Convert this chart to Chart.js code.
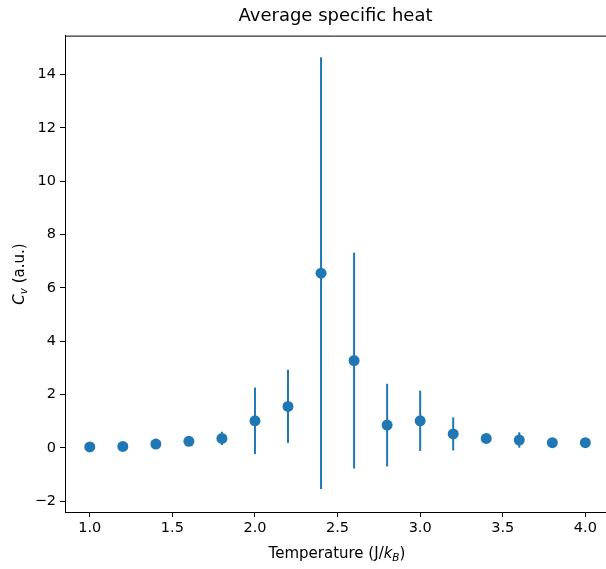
<!DOCTYPE html>
<html lang="en">
<head>
    <meta charset="UTF-8">
    <title>Average specific heat</title>
    <script src="https://cdn.jsdelivr.net/npm/chart.js"></script>
    <style>
        html, body {
            margin: 0;
            padding: 0;
            background: #fff;
        }
        #wrap {
            width: 606px;
            height: 569px;
        }
    </style>
</head>
<body>
    <div id="wrap">
        <canvas id="heatChart" width="606" height="569"></canvas>
    </div>

    <script>
        // data
        const temps = [1.0, 1.2, 1.4, 1.6, 1.8, 2.0, 2.2, 2.4, 2.6, 2.8, 3.0, 3.2, 3.4, 3.6, 3.8, 4.0];
        const cvMean = [0.03, 0.05, 0.14, 0.24, 0.35, 1.01, 1.55, 6.55, 3.27, 0.85, 1.01, 0.52, 0.35, 0.29, 0.19, 0.19];
        const cvErr = [0.03, 0.04, 0.06, 0.10, 0.25, 1.25, 1.37, 8.10, 4.05, 1.55, 1.13, 0.62, 0.10, 0.29, 0.05, 0.06];
        const xTicks = [1.0, 1.5, 2.0, 2.5, 3.0, 3.5, 4.0];
        const yTicks = [-2, 0, 2, 4, 6, 8, 10, 12, 14];

        const blue = '#1f77b4';
        const fontFamily = "'DejaVu Sans', sans-serif";

        // draws a label made of pieces (italic / subscript) centred on 0
        function drawPieces(ctx, pieces, cx, cy) {
            let total = 0;
            pieces.forEach(p => { ctx.font = p.f; total += ctx.measureText(p.t).width; });
            let x = cx - total / 2;
            pieces.forEach(p => {
                ctx.font = p.f;
                ctx.fillText(p.t, x, cy + p.dy);
                x += ctx.measureText(p.t).width;
            });
        }

        // vertical error bars + top spine + axis labels
        const extras = {
            id: 'extras',
            beforeDatasetsDraw(chart) {
                const ctx = chart.ctx;
                const xs = chart.scales.x, ys = chart.scales.y;
                ctx.save();
                ctx.strokeStyle = blue;
                ctx.lineWidth = 2;
                temps.forEach((t, i) => {
                    const px = xs.getPixelForValue(t);
                    ctx.beginPath();
                    ctx.moveTo(px, ys.getPixelForValue(cvMean[i] - cvErr[i]));
                    ctx.lineTo(px, ys.getPixelForValue(cvMean[i] + cvErr[i]));
                    ctx.stroke();
                });
                ctx.restore();
            },
            afterDraw(chart) {
                const ctx = chart.ctx;
                const area = chart.chartArea;
                ctx.save();
                ctx.strokeStyle = '#000';
                ctx.lineWidth = 1;
                ctx.beginPath();
                ctx.moveTo(area.left, area.top + 0.5);
                ctx.lineTo(area.right, area.top + 0.5);
                ctx.stroke();

                ctx.fillStyle = '#000';
                ctx.textBaseline = 'alphabetic';

                drawPieces(ctx, [
                    { t: 'Temperature (J/', f: '15px ' + fontFamily, dy: 0 },
                    { t: 'k', f: 'italic 15px ' + fontFamily, dy: 0 },
                    { t: 'B', f: 'italic 10.5px ' + fontFamily, dy: 3 },
                    { t: ')', f: '15px ' + fontFamily, dy: 0 }
                ], 337, 558);

                ctx.translate(24, 274);
                ctx.rotate(-Math.PI / 2);
                drawPieces(ctx, [
                    { t: 'C', f: 'italic 15px ' + fontFamily, dy: 0 },
                    { t: 'v', f: 'italic 10.5px ' + fontFamily, dy: 3 },
                    { t: ' (a.u.)', f: '15px ' + fontFamily, dy: 0 }
                ], 0, 0);
                ctx.restore();
            }
        };

        const ctx = document.getElementById('heatChart').getContext('2d');
        new Chart(ctx, {
            type: 'scatter',
            data: {
                datasets: [{
                    label: 'Cv',
                    data: temps.map((t, i) => ({ x: t, y: cvMean[i] })),
                    backgroundColor: blue,
                    borderColor: blue,
                    pointRadius: 5.5,
                    pointHoverRadius: 5.5,
                    borderWidth: 0
                }]
            },
            options: {
                responsive: false,
                animation: false,
                layout: { autoPadding: false, padding: { left: 0, right: 0, top: 0, bottom: 0 } },
                plugins: {
                    legend: { display: false },
                    tooltip: { enabled: false },
                    title: {
                        display: true,
                        text: 'Average specific heat',
                        fullSize: false,
                        color: '#000',
                        font: { family: fontFamily, size: 18, weight: 'normal' },
                        padding: { top: 6, bottom: 8 }
                    }
                },
                scales: {
                    x: {
                        type: 'linear',
                        min: 0.85,
                        max: 4.125,
                        afterBuildTicks(scale) { scale.ticks = xTicks.map(v => ({ value: v })); },
                        afterFit(scale) {
                            scale.height = 57;
                            scale.paddingLeft = 0;
                            scale.paddingRight = 0;
                        },
                        grid: { drawOnChartArea: false, drawTicks: true, tickLength: 5, color: '#000' },
                        border: { color: '#000', width: 1 },
                        ticks: {
                            color: '#000',
                            padding: 3,
                            maxRotation: 0,
                            font: { family: fontFamily, size: 14.5 },
                            callback: v => v.toFixed(1)
                        }
                    },
                    y: {
                        type: 'linear',
                        min: -2.41,
                        max: 15.46,
                        afterBuildTicks(scale) { scale.ticks = yTicks.map(v => ({ value: v })); },
                        afterFit(scale) {
                            scale.width = 65;
                            scale.paddingTop = 0;
                            scale.paddingBottom = 0;
                        },
                        grid: { drawOnChartArea: false, drawTicks: true, tickLength: 5, color: '#000' },
                        border: { color: '#000', width: 1 },
                        ticks: {
                            color: '#000',
                            padding: 4,
                            font: { family: fontFamily, size: 14.5 },
                            callback: v => (v < 0 ? '\u2212' + Math.abs(v) : String(v))
                        }
                    }
                }
            },
            plugins: [extras]
        });
    </script>
</body>
</html>
